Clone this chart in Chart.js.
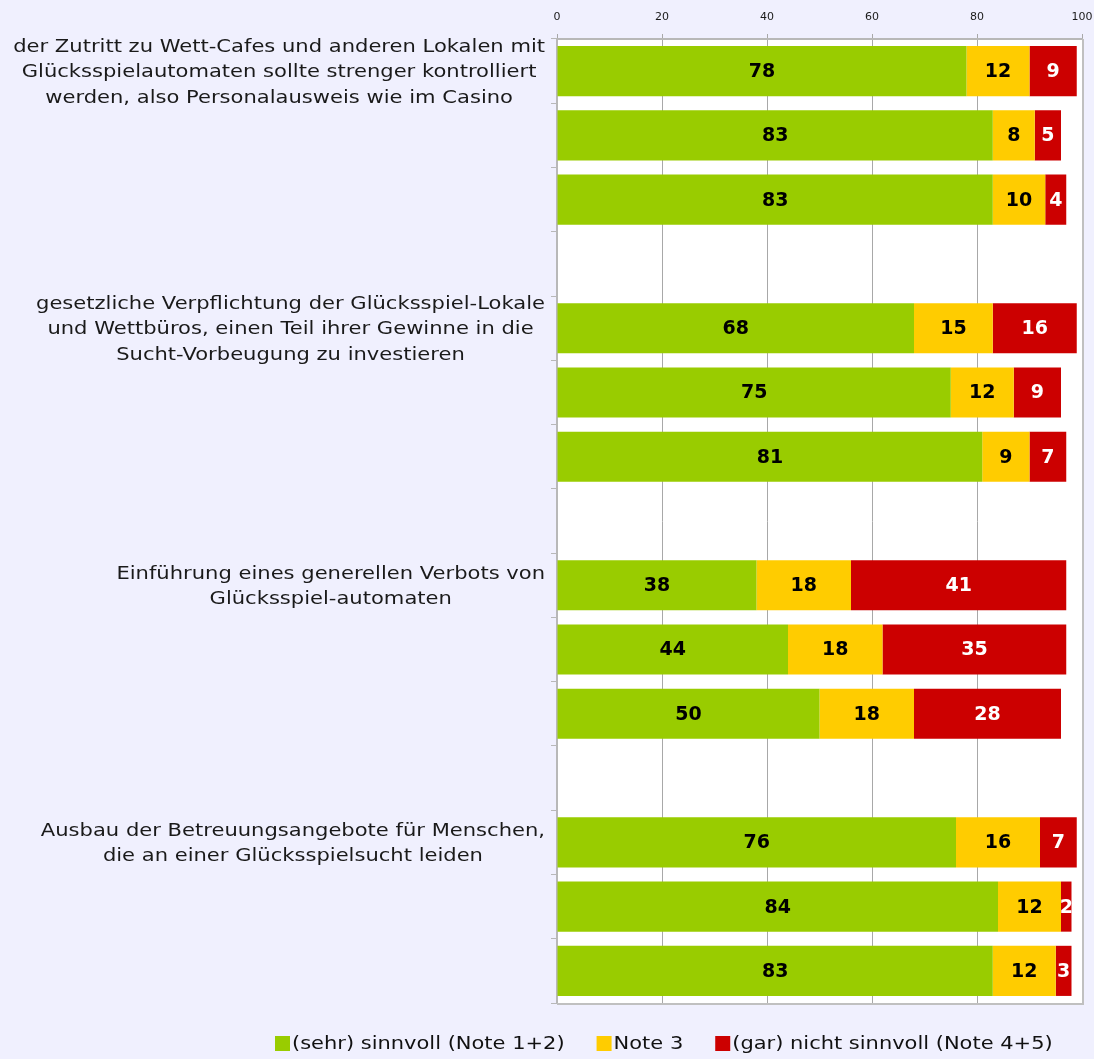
<!DOCTYPE html>
<html>
<head>
<meta charset="utf-8">
<script src="https://cdn.jsdelivr.net/npm/chart.js@4.4.1/dist/chart.umd.min.js"></script>
<style>
  html, body { margin: 0; padding: 0; background: #f0f0fe; }
  #wrap { width: 1094px; height: 1059px; }
</style>
</head>
<body>
<div id="wrap"><canvas id="chart"></canvas></div>
<script>
// 15 rows: 4 groups of 3 bars, with an empty row between groups
const rowNames = ["a1", "a2", "a3", "", "b1", "b2", "b3", " ", "c1", "c2", "c3", "  ", "d1", "d2", "d3"];
const groupRows = [0, 4, 8, 12];
const groupLabels = [
  ["der Zutritt zu Wett-Cafes und anderen Lokalen mit", "Glücksspielautomaten sollte strenger kontrolliert", "werden, also Personalausweis wie im Casino"],
  ["gesetzliche Verpflichtung der Glücksspiel-Lokale", "und Wettbüros, einen Teil ihrer Gewinne in die", "Sucht-Vorbeugung zu investieren"],
  ["Einführung eines generellen Verbots von", "Glücksspiel-automaten"],
  ["Ausbau der Betreuungsangebote für Menschen,", "die an einer Glücksspielsucht leiden"]
];
const sinnvoll = [78, 83, 83, null, 68, 75, 81, null, 38, 44, 50, null, 76, 84, 83];
const note3    = [12, 8, 10, null, 15, 12, 9, null, 18, 18, 18, null, 16, 12, 12];
const nicht    = [9, 5, 4, null, 16, 9, 7, null, 41, 35, 28, null, 7, 2, 3];
const seriesNames = ["(sehr) sinnvoll (Note 1+2)", "Note 3", "(gar) nicht sinnvoll (Note 4+5)"];
const seriesColors = ["#99cc00", "#ffcc00", "#cc0000"];
const labelColors = ["#000000", "#000000", "#ffffff"];

const FONT = "'DejaVu Sans', Verdana, sans-serif";

// the original text is a bit wider than DejaVu, so stretch it sideways
function wideText(ctx, text, x, y, align, stretch) {
  const w = ctx.measureText(text).width * stretch;
  let left = x;
  if (align === "center") left = x - w / 2;
  else if (align === "right") left = x - w;
  ctx.save();
  ctx.translate(left, y);
  ctx.scale(stretch, 1);
  ctx.textAlign = "left";
  ctx.fillText(text, 0, 0);
  ctx.restore();
  return w;
}

const plotBackground = {
  id: "plotBackground",
  beforeDraw(chart) {
    const { ctx, chartArea: a } = chart;
    ctx.save();
    ctx.fillStyle = "#ffffff";
    ctx.fillRect(a.left, a.top, a.right - a.left, a.bottom - a.top);
    ctx.restore();
  },
  afterDraw(chart) {
    const { ctx, chartArea: a } = chart;
    ctx.save();
    ctx.strokeStyle = "#c0c0c0";
    ctx.lineWidth = 2;
    ctx.beginPath();
    ctx.moveTo(a.left, a.bottom + 1);
    ctx.lineTo(a.right + 1, a.bottom + 1);
    ctx.lineTo(a.right + 1, a.top);
    ctx.stroke();
    ctx.restore();
  }
};

const barValues = {
  id: "barValues",
  afterDatasetsDraw(chart) {
    const ctx = chart.ctx;
    ctx.save();
    ctx.font = "bold 19px " + FONT;
    ctx.textAlign = "center";
    ctx.textBaseline = "middle";
    chart.data.datasets.forEach((ds, i) => {
      const meta = chart.getDatasetMeta(i);
      meta.data.forEach((bar, j) => {
        const v = ds.data[j];
        if (v === null) return;
        ctx.fillStyle = labelColors[i];
        ctx.fillText(String(v), (bar.x + bar.base) / 2, bar.y + 1);
      });
    });
    ctx.restore();
  }
};

const groupText = {
  id: "groupText",
  afterDraw(chart) {
    const ctx = chart.ctx;
    const y = chart.scales.y;
    const right = chart.chartArea.left - 12;
    const lineH = 25.5;
    const stretch = 1.17;
    ctx.save();
    ctx.font = "18px " + FONT;
    ctx.fillStyle = "#1a1a1a";
    ctx.textBaseline = "middle";
    groupLabels.forEach((lines, g) => {
      const w = Math.max(...lines.map(l => ctx.measureText(l).width)) * stretch;
      const cx = right - w / 2;
      const cy = y.getPixelForValue(groupRows[g]) + 1.5;
      const y0 = cy - (lines.length - 1) * lineH / 2;
      lines.forEach((l, k) => wideText(ctx, l, cx, y0 + k * lineH, "center", stretch));
    });
    ctx.restore();
  }
};

// legend drawn by hand so that the text can be widened like the original
const bottomLegend = {
  id: "bottomLegend",
  afterDraw(chart) {
    const ctx = chart.ctx;
    const cy = chart.chartArea.bottom + 40;
    let x = 275;
    ctx.save();
    ctx.font = "18px " + FONT;
    ctx.textBaseline = "middle";
    seriesNames.forEach((name, i) => {
      ctx.fillStyle = seriesColors[i];
      ctx.fillRect(x, cy - 7, 15, 15);
      ctx.fillStyle = "#111111";
      const w = wideText(ctx, name, x + 17, cy + 1, "left", 1.165);
      x += 17 + w + 32;
    });
    ctx.restore();
  }
};

new Chart(document.getElementById("chart"), {
  type: "bar",
  data: {
    labels: rowNames,
    datasets: [
      { label: seriesNames[0], data: sinnvoll, backgroundColor: seriesColors[0] },
      { label: seriesNames[1], data: note3, backgroundColor: seriesColors[1] },
      { label: seriesNames[2], data: nicht, backgroundColor: seriesColors[2] }
    ]
  },
  options: {
    indexAxis: "y",
    responsive: true,
    maintainAspectRatio: false,
    animation: false,
    layout: { padding: { left: 0, right: 12, top: 0, bottom: 56 } },
    datasets: { bar: { categoryPercentage: 1, barPercentage: 0.78 } },
    scales: {
      x: {
        position: "top",
        stacked: true,
        min: 0,
        max: 100,
        ticks: { stepSize: 20, maxRotation: 0, color: "#1a1a1a", font: { family: FONT, size: 11 }, padding: 10 },
        grid: {
          color: ctx => (ctx.tick && (ctx.tick.value === 0 || ctx.tick.value === 100)) ? "rgba(0,0,0,0)" : "#a8a8a8",
          tickColor: "#a8a8a8",
          tickLength: 5
        },
        border: { color: "#b8b8b8", width: 2 },
        afterFit(scale) {
          scale.height = 39;
          scale.paddingLeft = 0;
          scale.paddingRight = 0;
        }
      },
      y: {
        stacked: true,
        ticks: { display: false },
        grid: { offset: true, drawOnChartArea: false, color: "#b8b8b8", tickLength: 6 },
        border: { color: "#b8b8b8", width: 2 },
        afterFit(scale) { scale.width = 557; }
      }
    },
    plugins: {
      tooltip: { enabled: false },
      legend: { display: false }
    }
  },
  plugins: [plotBackground, barValues, groupText, bottomLegend]
});
</script>
</body>
</html>
